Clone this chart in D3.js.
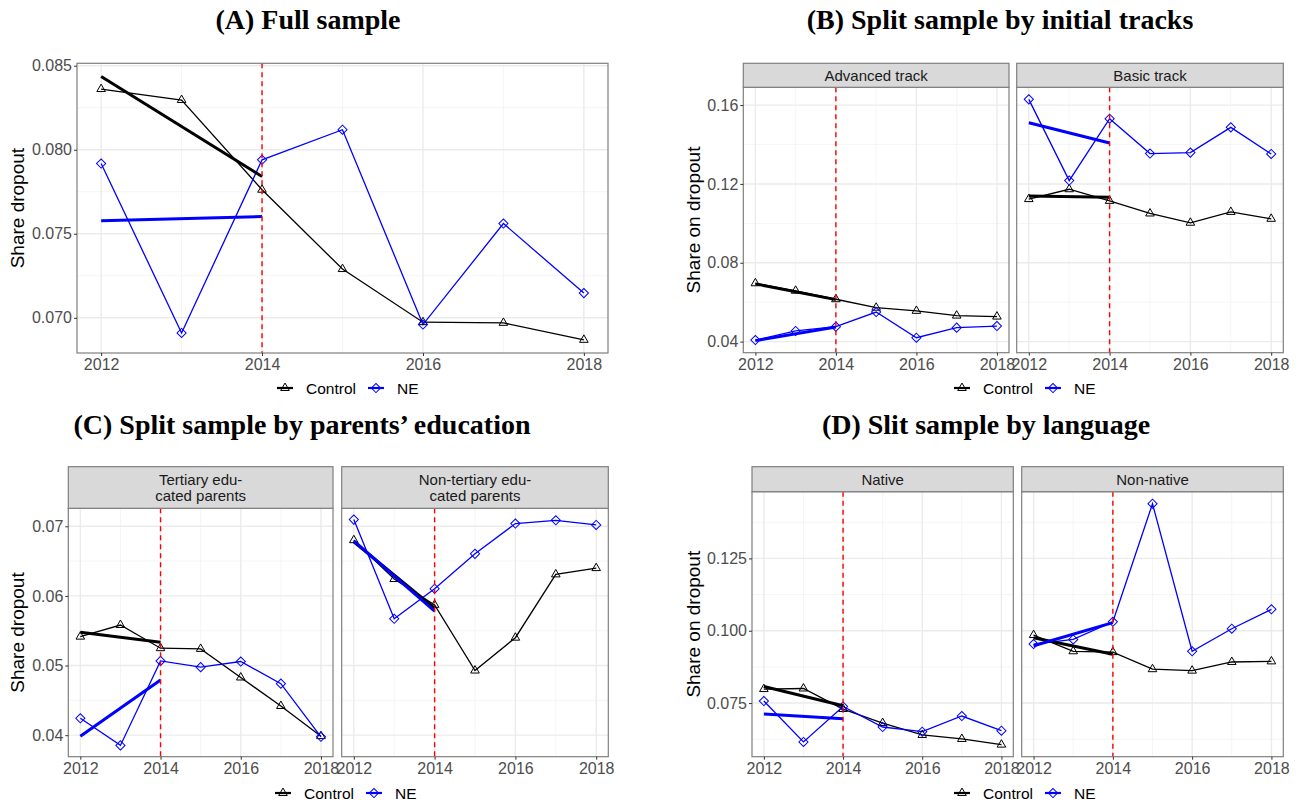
<!DOCTYPE html>
<html>
<head>
<meta charset="utf-8">
<title>Share dropout by group</title>
<script src="https://d3js.org/d3.v7.min.js"></script>
<style>
  body { margin: 0; background: #ffffff; }
  svg { display: block; font-family: "Liberation Sans", Arial, sans-serif; }
  .title { font-family: "Liberation Serif", "Times New Roman", serif; font-weight: bold; font-size: 28px; fill: #000; }
  .axis text { fill: #4D4D4D; font-size: 16px; font-family: "Liberation Sans", Arial, sans-serif; }
  .axis line { stroke: #333; }
  .axis path { display: none; }
  .ylab { font-size: 19px; fill: #000; }
  .strip text { font-size: 15px; fill: #1A1A1A; }
  .legend text { font-size: 15.5px; fill: #000; }
</style>
</head>
<body>
<div id="chart"></div>
<script>
var years = [2012, 2013, 2014, 2015, 2016, 2017, 2018];
var trendYears = [2012, 2014];
var xTicks = [2012, 2014, 2016, 2018];
var xMinor = [2013, 2015, 2017];
var treatYear = 2014;
var groups = ["Control", "NE"];

// (A) full sample
var fullControl = [0.08361, 0.08296, 0.07762, 0.0729, 0.06974, 0.0697, 0.06869];
var fullNE = [0.07918, 0.0691, 0.0794, 0.08119, 0.0696, 0.07561, 0.07147];
var fullControlTrend = [0.08436, 0.07841];
var fullNETrend = [0.07577, 0.07603];
var fullYTicks = [0.070, 0.075, 0.080, 0.085];
var fullYMinor = [0.0725, 0.0775, 0.0825];

// (B) by initial track
var advControl = [0.0696, 0.0658, 0.0615, 0.0572, 0.0556, 0.0532, 0.0527];
var advNE = [0.0408, 0.0454, 0.0476, 0.055, 0.042, 0.0471, 0.0479];
var advControlTrend = [0.0693, 0.0613];
var advNETrend = [0.0405, 0.0474];
var basicControl = [0.1123, 0.1173, 0.1114, 0.105, 0.1003, 0.1058, 0.1023];
var basicNE = [0.1629, 0.1217, 0.1531, 0.1354, 0.1359, 0.1487, 0.1352];
var basicControlTrend = [0.1139, 0.1133];
var basicNETrend = [0.1510, 0.1408];
var trackYTicks = [0.04, 0.08, 0.12, 0.16];
var trackYMinor = [0.06, 0.10, 0.14];

// (C) by parents' education
var tertControl = [0.05415, 0.05582, 0.05249, 0.05239, 0.04828, 0.04419, 0.03986];
var tertNE = [0.04243, 0.03853, 0.05067, 0.04977, 0.05058, 0.0474, 0.03977];
var tertControlTrend = [0.05478, 0.05335];
var tertNETrend = [0.03986, 0.04792];
var nonTertControl = [0.068, 0.06242, 0.05871, 0.04928, 0.054, 0.06309, 0.06399];
var nonTertNE = [0.07096, 0.05671, 0.06104, 0.06604, 0.07039, 0.07086, 0.07019];
var nonTertControlTrend = [0.06776, 0.05823];
var nonTertNETrend = [0.0679, 0.0578];
var eduYTicks = [0.04, 0.05, 0.06, 0.07];
var eduYMinor = [0.045, 0.055, 0.065];

// (D) by language
var nativeControl = [0.07983, 0.08003, 0.07293, 0.0681, 0.06397, 0.06259, 0.06062];
var nativeNE = [0.0757, 0.06155, 0.07383, 0.06672, 0.0651, 0.07052, 0.06545];
var nativeControlTrend = [0.08072, 0.07407];
var nativeNETrend = [0.07121, 0.06959];
var nonNativeControl = [0.0985, 0.0929, 0.0926, 0.0867, 0.0862, 0.0892, 0.0894];
var nonNativeNE = [0.0954, 0.097, 0.1031, 0.1439, 0.0929, 0.1007, 0.1074];
var nonNativeControlTrend = [0.0976, 0.0919];
var nonNativeNETrend = [0.0948, 0.1028];
var langYTicks = [0.075, 0.100, 0.125];
var langYMinor = [0.0625, 0.0875, 0.1125, 0.1375];

var colors = {Control: "#000000", NE: "#0000FF"};

var svg = d3.select("#chart").append("svg")
  .attr("width", 1303)
  .attr("height", 805);
svg.append("rect").attr("width", 1303).attr("height", 805).attr("fill", "#fff");

var panels = [
  {title: "(A) Full sample", tx: 308, ty: 29, ylab: "Share dropout", ylx: 24,
   top: 63.3, stripTop: null, bottom: 353, fmt: ".3f", lx: 285, ly: 388,
   yTicks: fullYTicks, yMinor: fullYMinor,
   facets: [{x0: 77, x1: 608, label: null,
     control: fullControl, ne: fullNE, controlTrend: fullControlTrend, neTrend: fullNETrend}]},
  {title: "(B) Split sample by initial tracks", tx: 1000, ty: 29, ylab: "Share on dropout", ylx: 700,
   top: 87.3, stripTop: 63.3, bottom: 352.7, fmt: ".2f", lx: 962, ly: 388,
   yTicks: trackYTicks, yMinor: trackYMinor,
   facets: [
    {x0: 743.3, x1: 1009, label: ["Advanced track"],
     control: advControl, ne: advNE, controlTrend: advControlTrend, neTrend: advNETrend},
    {x0: 1016.7, x1: 1283.3, label: ["Basic track"],
     control: basicControl, ne: basicNE, controlTrend: basicControlTrend, neTrend: basicNETrend}]},
  {title: "(C) Split sample by parents\u2019 education", tx: 302, ty: 434, ylab: "Share dropout", ylx: 24,
   top: 508.3, stripTop: 466.7, bottom: 756.7, fmt: ".2f", lx: 283, ly: 793,
   yTicks: eduYTicks, yMinor: eduYMinor,
   facets: [
    {x0: 68.3, x1: 333, label: ["Tertiary edu-", "cated parents"],
     control: tertControl, ne: tertNE, controlTrend: tertControlTrend, neTrend: tertNETrend},
    {x0: 341.7, x1: 608.3, label: ["Non-tertiary edu-", "cated parents"],
     control: nonTertControl, ne: nonTertNE, controlTrend: nonTertControlTrend, neTrend: nonTertNETrend}]},
  {title: "(D) Slit sample by language", tx: 986, ty: 434, ylab: "Share on dropout", ylx: 700,
   top: 491.7, stripTop: 466.7, bottom: 756.7, fmt: ".3f", lx: 962, ly: 793,
   yTicks: langYTicks, yMinor: langYMinor,
   facets: [
    {x0: 752, x1: 1013.3, label: ["Native"],
     control: nativeControl, ne: nativeNE, controlTrend: nativeControlTrend, neTrend: nativeNETrend},
    {x0: 1021.7, x1: 1283.3, label: ["Non-native"],
     control: nonNativeControl, ne: nonNativeNE, controlTrend: nonNativeControlTrend, neTrend: nonNativeNETrend}]}
];

var triangle = d3.symbol().type(d3.symbolTriangle).size(32);
var diamond = d3.symbol().type(d3.symbolSquare).size(42);

function drawMarker(g, group, cx, cy) {
  if (group === "Control") {
    g.append("path").attr("d", triangle())
      .attr("transform", "translate(" + cx + "," + cy + ")")
      .attr("fill", "none").attr("stroke", colors.Control).attr("stroke-width", 1);
  } else {
    g.append("path").attr("d", diamond())
      .attr("transform", "translate(" + cx + "," + cy + ") rotate(45)")
      .attr("fill", "none").attr("stroke", colors.NE).attr("stroke-width", 1);
  }
}

function drawPanel(p) {
  var all = [];
  p.facets.forEach(function(f) {
    all = all.concat(f.control, f.ne, f.controlTrend, f.neTrend);
  });
  var ext = d3.extent(all);
  var pad = (ext[1] - ext[0]) * 0.05;
  var y = d3.scaleLinear().domain([ext[0] - pad, ext[1] + pad]).range([p.bottom, p.top]);

  svg.append("text").attr("class", "title")
    .attr("x", p.tx).attr("y", p.ty)
    .attr("text-anchor", "middle")
    .text(p.title);

  svg.append("text").attr("class", "ylab")
    .attr("transform", "translate(" + p.ylx + "," + ((p.top + p.bottom) / 2) + ") rotate(-90)")
    .attr("text-anchor", "middle")
    .text(p.ylab);

  p.facets.forEach(function(f, i) {
    var x = d3.scaleLinear().domain([2011.7, 2018.3]).range([f.x0, f.x1]);
    var g = svg.append("g");

    // grid
    g.selectAll(".ymin").data(p.yMinor).enter().append("line")
      .attr("x1", f.x0).attr("x2", f.x1)
      .attr("y1", function(d) { return y(d); }).attr("y2", function(d) { return y(d); })
      .attr("stroke", "#F2F2F2").attr("stroke-width", 0.8);
    g.selectAll(".xmin").data(xMinor).enter().append("line")
      .attr("y1", p.top).attr("y2", p.bottom)
      .attr("x1", function(d) { return x(d); }).attr("x2", function(d) { return x(d); })
      .attr("stroke", "#F2F2F2").attr("stroke-width", 0.8);
    g.selectAll(".ymaj").data(p.yTicks).enter().append("line")
      .attr("x1", f.x0).attr("x2", f.x1)
      .attr("y1", function(d) { return y(d); }).attr("y2", function(d) { return y(d); })
      .attr("stroke", "#EBEBEB").attr("stroke-width", 1.4);
    g.selectAll(".xmaj").data(xTicks).enter().append("line")
      .attr("y1", p.top).attr("y2", p.bottom)
      .attr("x1", function(d) { return x(d); }).attr("x2", function(d) { return x(d); })
      .attr("stroke", "#EBEBEB").attr("stroke-width", 1.4);

    var line = d3.line().x(function(d) { return x(d[0]); }).y(function(d) { return y(d[1]); });
    var series = {Control: f.control, NE: f.ne};
    var trends = {Control: f.controlTrend, NE: f.neTrend};

    groups.forEach(function(gr) {
      var pts = years.map(function(yr, k) { return [yr, series[gr][k]]; });
      g.append("path").datum(pts).attr("d", line)
        .attr("fill", "none").attr("stroke", colors[gr]).attr("stroke-width", 1.3);
    });
    groups.forEach(function(gr) {
      years.forEach(function(yr, k) { drawMarker(g, gr, x(yr), y(series[gr][k])); });
    });
    groups.forEach(function(gr) {
      var pts = trendYears.map(function(yr, k) { return [yr, trends[gr][k]]; });
      g.append("path").datum(pts).attr("d", line)
        .attr("fill", "none").attr("stroke", colors[gr]).attr("stroke-width", 3);
    });

    g.append("line")
      .attr("x1", x(treatYear)).attr("x2", x(treatYear))
      .attr("y1", p.top).attr("y2", p.bottom)
      .attr("stroke", "#FF0000").attr("stroke-width", 1.4)
      .attr("stroke-dasharray", "5,4");

    g.append("rect")
      .attr("x", f.x0).attr("y", p.top)
      .attr("width", f.x1 - f.x0).attr("height", p.bottom - p.top)
      .attr("fill", "none").attr("stroke", "#7F7F7F").attr("stroke-width", 1.2);

    if (p.stripTop !== null) {
      var s = svg.append("g").attr("class", "strip");
      s.append("rect")
        .attr("x", f.x0).attr("y", p.stripTop)
        .attr("width", f.x1 - f.x0).attr("height", p.top - p.stripTop)
        .attr("fill", "#D9D9D9").attr("stroke", "#7F7F7F").attr("stroke-width", 1.2);
      var mid = (p.stripTop + p.top) / 2;
      var n = f.label.length;
      f.label.forEach(function(t, k) {
        s.append("text")
          .attr("x", (f.x0 + f.x1) / 2)
          .attr("y", mid + (k - (n - 1) / 2) * 16.5)
          .attr("dy", "0.36em")
          .attr("text-anchor", "middle")
          .text(t);
      });
    }

    svg.append("g").attr("class", "axis")
      .attr("transform", "translate(0," + p.bottom + ")")
      .call(d3.axisBottom(x).tickValues(xTicks).tickSize(3).tickPadding(3).tickFormat(d3.format("d")));

    if (i === 0) {
      svg.append("g").attr("class", "axis")
        .attr("transform", "translate(" + f.x0 + ",0)")
        .call(d3.axisLeft(y).tickValues(p.yTicks).tickSize(3).tickPadding(2).tickFormat(d3.format(p.fmt)));
    }
  });

  // legend
  var lg = svg.append("g").attr("class", "legend");
  var cx = p.lx;
  groups.forEach(function(gr) {
    lg.append("line")
      .attr("x1", cx - 8).attr("x2", cx + 8)
      .attr("y1", p.ly).attr("y2", p.ly)
      .attr("stroke", colors[gr]).attr("stroke-width", 2.2);
    drawMarker(lg, gr, cx, p.ly);
    var t = lg.append("text")
      .attr("x", cx + 21).attr("y", p.ly)
      .attr("dy", "0.36em")
      .text(gr);
    cx = cx + 21 + t.node().getComputedTextLength() + 20;
  });
}

panels.forEach(drawPanel);
</script>
</body>
</html>
